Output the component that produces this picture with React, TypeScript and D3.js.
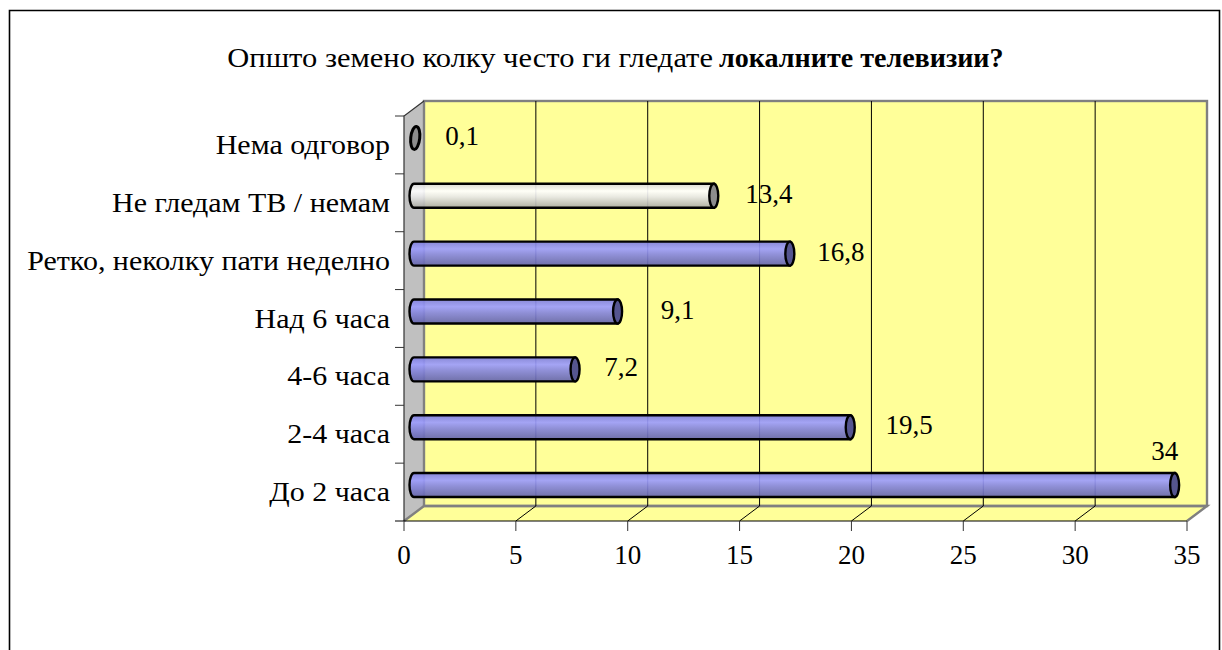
import React from "react";
import * as d3 from "d3";

// chart values, bottom row first
const categories = ["До 2 часа", "2-4 часа", "4-6 часа", "Над 6 часа", "Ретко, неколку пати неделно", "Не гледам ТВ / немам", "Нема одговор"];
const values = [34, 19.5, 7.2, 9.1, 16.8, 13.4, 0.1];
const valueLabels = ["34", "19,5", "7,2", "9,1", "16,8", "13,4", "0,1"];
const xTicks = [0, 5, 10, 15, 20, 25, 30, 35];
const titleNormal = "Општо земено колку често ги гледате";
const titleBold = "локалните телевизии?";

const FONT = "'Liberation Serif', 'Times New Roman', serif";

// 3d depth of the plot box
const depthX = 20;
const depthY = 15;
const left = 404;
const right = 1187;
const bottom = 521;
const top = 116;

export default function App() {
	const x = d3.scaleLinear().domain([0, 35]).range([left, right]);
	const y = d3
		.scaleBand()
		.domain(categories)
		.range([bottom, top]);

	const barH = 24;
	const capRx = 4.5;
	const wallLine = "#808080";
	const fontSize = 27;

	// label offset from bar end, the original has them hand placed
	const labelDx = [-10, 59, 46, 60, 51, 55, 46];
	const labelDy = [-32, 0, 0, 0, 0, 0, 0];

	return (
		<svg
			width={1222}
			height={650}
			style={{ position: "absolute", left: 0, top: 0 }}
			fontFamily={FONT}
		>
			<defs>
				<linearGradient id="blue" x1="0" y1="0" x2="0" y2="1">
					<stop offset="0" stopColor="#7f7fdc" stopOpacity={0.92} />
					<stop offset="0.3" stopColor="#9c9cfc" stopOpacity={0.92} />
					<stop offset="0.55" stopColor="#8686dc" stopOpacity={0.92} />
					<stop offset="1" stopColor="#6464aa" stopOpacity={0.92} />
				</linearGradient>
				<linearGradient id="white" x1="0" y1="0" x2="0" y2="1">
					<stop offset="0" stopColor="#d8d8d8" stopOpacity={0.92} />
					<stop offset="0.3" stopColor="#ffffff" stopOpacity={0.92} />
					<stop offset="0.55" stopColor="#e6e6e6" stopOpacity={0.92} />
					<stop offset="1" stopColor="#a8a8a0" stopOpacity={0.92} />
				</linearGradient>
			</defs>

			{/* outer frame, runs off the bottom of the page */}
			<path d="M9.5,660V10.5H1219.5V660" fill="none" stroke="#000" strokeWidth={1.6} />

			{/* floor, side wall, back wall */}
			<polygon
				points={`${left},${bottom} ${left + depthX},${bottom - depthY} ${right + depthX},${bottom - depthY} ${right},${bottom}`}
				fill="#ffff99"
			/>
			<polygon
				points={`${left},${bottom} ${left + depthX},${bottom - depthY} ${left + depthX},${top - depthY} ${left},${top}`}
				fill="#c0c0c0"
			/>
			<rect
				x={left + depthX}
				y={top - depthY}
				width={right - left}
				height={bottom - top}
				fill="#ffff99"
				stroke={wallLine}
				strokeWidth={2.4}
			/>
			<path
				d={`M${left},${bottom}L${left + depthX},${bottom - depthY}L${right + depthX},${bottom - depthY}L${right},${bottom}`}
				fill="none"
				stroke={wallLine}
				strokeWidth={2.4}
			/>

			{/* gridlines on back wall and floor */}
			{xTicks.slice(1, -1).map((t) => (
				<path
					key={t}
					d={`M${x(t)},${bottom}L${x(t) + depthX},${bottom - depthY}V${top - depthY}`}
					fill="none"
					stroke="#000"
					strokeWidth={1}
				/>
			))}

			{/* axes */}
			<path
				d={`M${left},${bottom}V${top}L${left + depthX},${top - depthY}`}
				fill="none"
				stroke="#333"
				strokeWidth={1.2}
			/>
			<path d={`M${left - 9},${bottom}H${right}`} stroke="#000" strokeWidth={1.2} />
			{categories.map((c, i) => {
				const ty = y(c) as number;
				return <path key={i} d={`M${left - 9},${ty}H${left}`} stroke="#333" strokeWidth={1} />;
			})}
			{xTicks.map((t) => (
				<g key={t}>
					<path d={`M${x(t)},${bottom}V${bottom + 10}`} stroke="#333" strokeWidth={1} />
					<text x={x(t)} y={564} fontSize={fontSize} textAnchor="middle" fill="#000">
						{t}
					</text>
				</g>
			))}

			{/* category labels, the original cyrillic face is wider so stretch it */}
			{categories.map((c) => (
				<text
					key={c}
					transform={`translate(390,${(y(c) as number) + y.bandwidth() / 2 + 9}) scale(1.11,1)`}
					fontSize={fontSize}
					textAnchor="end"
					fill="#000"
				>
					{c}
				</text>
			))}

			{/* cylinder bars */}
			{categories.map((c, i) => {
				const cy = (y(c) as number) + y.bandwidth() / 2 - depthY / 2 + 0.5;
				const x0 = x(0) + depthX / 2;
				const x1 = x(values[i]) + depthX / 2;
				const grey = c === "Не гледам ТВ / немам";
				const tiny = c === "Нема одговор";
				const capFill = grey || tiny ? "#8c8c8c" : "#55558f";
				return (
					<g key={c}>
						{!tiny && (
							<path
								d={`M${x0},${cy - barH / 2}H${x1}V${cy + barH / 2}H${x0}A${capRx},${barH / 2} 0 0 1 ${x0},${cy - barH / 2}Z`}
								fill={grey ? "url(#white)" : "url(#blue)"}
								stroke="#000"
								strokeWidth={2.4}
							/>
						)}
						<ellipse
							cx={tiny ? x1 - 1 : x1}
							cy={cy}
							rx={tiny ? 4.5 : capRx}
							ry={tiny ? 11.5 : barH / 2}
							fill={capFill}
							stroke="#000"
							strokeWidth={tiny ? 3 : 2.4}
							transform={tiny ? `rotate(6 ${x1 - 1} ${cy})` : undefined}
						/>
						<text
							x={x1 + labelDx[i]}
							y={cy + labelDy[i] + 7}
							fontSize={fontSize}
							textAnchor="middle"
							fill="#000"
						>
							{valueLabels[i]}
						</text>
					</g>
				);
			})}

			<text transform="translate(713,67) scale(1.13,1)" fontSize={fontSize} textAnchor="end" fill="#000">
				{titleNormal}
			</text>
			<text transform="translate(719,67) scale(1.04,1)" fontSize={fontSize} fontWeight="bold" fill="#000">
				{titleBold}
			</text>
		</svg>
	);
}
